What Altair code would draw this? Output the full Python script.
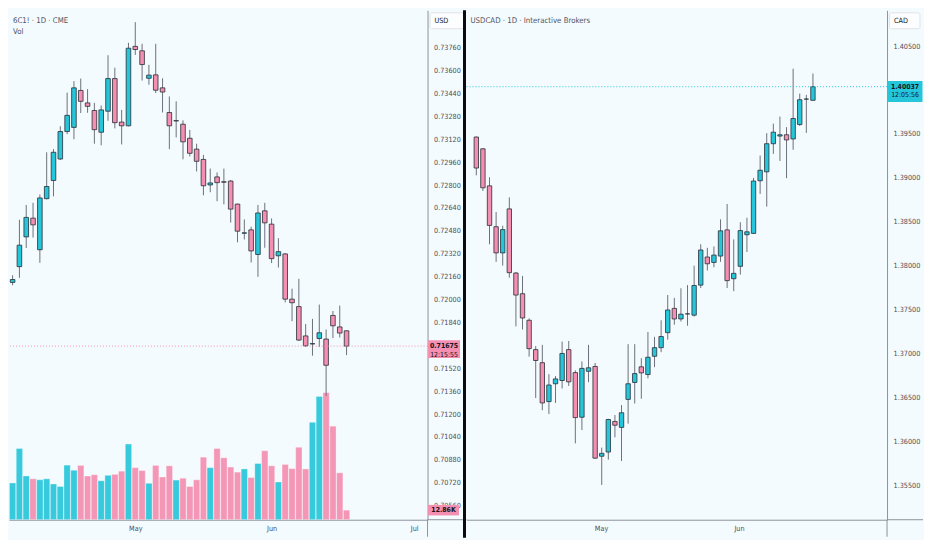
import altair as alt
import pandas as pd

# ---------------- left panel: 6C1! · 1D · CME ----------------
cad_idx = list(range(50))
cad_open = [0.72120, 0.72230, 0.72438, 0.72569, 0.72348, 0.72705, 0.72832, 0.72982, 0.73174, 0.73203,
            0.73461, 0.73374, 0.73321, 0.73169, 0.73316, 0.73544, 0.73240, 0.73214, 0.73769, 0.73738,
            0.73546, 0.73570, 0.73479, 0.73307, 0.73248, 0.73225, 0.73127, 0.73051, 0.72979, 0.72801,
            0.72857, 0.72823, 0.72828, 0.72667, 0.72464, 0.72487, 0.72315, 0.72620, 0.72527, 0.72306,
            0.72319, 0.72003, 0.71951, 0.71746, 0.71690, 0.71728, 0.71724, 0.71889, 0.71809, 0.71782]
cad_high = [0.72170, 0.72558, 0.72661, 0.72676, 0.72734, 0.73029, 0.73051, 0.73211, 0.73446, 0.73526,
            0.73544, 0.73470, 0.73374, 0.73356, 0.73707, 0.73620, 0.73325, 0.73794, 0.73938, 0.73787,
            0.73640, 0.73787, 0.73546, 0.73419, 0.73385, 0.73252, 0.73185, 0.73089, 0.73011, 0.72915,
            0.72888, 0.72915, 0.72835, 0.72670, 0.72560, 0.72509, 0.72661, 0.72676, 0.72567, 0.72429,
            0.72325, 0.72076, 0.72145, 0.71829, 0.71865, 0.71965, 0.71791, 0.71920, 0.71958, 0.71785]
cad_low = [0.72100, 0.72152, 0.72360, 0.72433, 0.72257, 0.72700, 0.72721, 0.72975, 0.73156, 0.73120,
           0.73303, 0.73305, 0.73089, 0.73078, 0.73249, 0.73196, 0.73084, 0.73210, 0.73709, 0.73530,
           0.73501, 0.73443, 0.73307, 0.73051, 0.73133, 0.72980, 0.73000, 0.72895, 0.72728, 0.72750,
           0.72687, 0.72665, 0.72538, 0.72400, 0.72420, 0.72259, 0.72159, 0.72362, 0.72255, 0.72224,
           0.71980, 0.71849, 0.71711, 0.71670, 0.71608, 0.71668, 0.71327, 0.71731, 0.71735, 0.71612]
cad_close = [0.72140, 0.72380, 0.72574, 0.72522, 0.72710, 0.72790, 0.73029, 0.73174, 0.73287, 0.73479,
             0.73385, 0.73350, 0.73187, 0.73325, 0.73544, 0.73236, 0.73214, 0.73756, 0.73747, 0.73642,
             0.73568, 0.73463, 0.73450, 0.73214, 0.73250, 0.73102, 0.73022, 0.72966, 0.72795, 0.72815,
             0.72817, 0.72820, 0.72632, 0.72478, 0.72466, 0.72340, 0.72605, 0.72536, 0.72286, 0.72335,
             0.72003, 0.71978, 0.71717, 0.71677, 0.71692, 0.71768, 0.71541, 0.71817, 0.71766, 0.71675]
cad_volume_k = [49.3, 95.6, 58.7, 54.9, 53.6, 54.9, 48.0, 44.6, 73.3, 66.4,
                72.9, 58.7, 60.4, 52.3, 59.6, 60.9, 65.2, 101.6, 69.9, 66.0,
                48.9, 72.9, 57.4, 72.4, 53.2, 55.7, 44.6, 53.6, 84.0, 69.9,
                95.6, 83.2, 70.7, 63.9, 68.2, 56.6, 75.4, 92.6, 72.4, 50.6,
                74.2, 68.6, 97.3, 68.2, 130.8, 165.5, 170.6, 125.6, 63.0, 12.86]
cad_ticks = [0.70560, 0.70720, 0.70880, 0.71040, 0.71200, 0.71360, 0.71520, 0.71840,
             0.72000, 0.72160, 0.72320, 0.72480, 0.72640, 0.72800, 0.72960, 0.73120, 0.73280,
             0.73440, 0.73600, 0.73760]
cad_month_labels = ["May", "Jun", "Jul"]
cad_month_pos = [18.0, 38.0, 58.93]
cad_xdomain = [0.204, 60.15]
cad_ydomain = [0.70462, 0.74021]
cad_vol_domain = [0, 684]
cad_last = 0.71675
cad_countdown = "12:15:55"
cad_vol_last = 12.86
cad_vol_label = "12.86K"
cad_title = "6C1! · 1D · CME"
cad_sub = "Vol"
cad_ccy = "USD"

# ---------------- right panel: USDCAD · 1D · Interactive Brokers ----------------
uc_idx = list(range(1, 53))
uc_open = [1.39464, 1.39330, 1.38908, 1.38443, 1.38145, 1.38646, 1.37916, 1.37680, 1.37378, 1.37044,
           1.36895, 1.36452, 1.36655, 1.36692, 1.37044, 1.36782, 1.36274, 1.36797, 1.36852, 1.35830,
           1.35878, 1.36226, 1.36158, 1.36477, 1.36670, 1.36848, 1.36760, 1.36968, 1.37066, 1.37237,
           1.37513, 1.37393, 1.37451, 1.37436, 1.37778, 1.38098, 1.38036, 1.38109, 1.38407, 1.37851,
           1.37992, 1.38352, 1.38367, 1.38966, 1.39068, 1.39388, 1.39475, 1.39490, 1.39442, 1.39606,
           1.39896, 1.39882]
uc_high = [1.39470, 1.39336, 1.39006, 1.38610, 1.38454, 1.38777, 1.37927, 1.37883, 1.37400, 1.37084,
           1.37098, 1.36764, 1.36742, 1.37135, 1.37142, 1.36808, 1.36910, 1.37098, 1.36892, 1.35928,
           1.36256, 1.36299, 1.36412, 1.37106, 1.37106, 1.36946, 1.37244, 1.37189, 1.37378, 1.37665,
           1.37633, 1.37742, 1.37778, 1.37999, 1.38243, 1.38203, 1.38218, 1.38527, 1.38701, 1.38298,
           1.38494, 1.38545, 1.38999, 1.39253, 1.39508, 1.39617, 1.39697, 1.39577, 1.40242, 1.39958,
           1.39944, 1.40187]
uc_low = [1.39028, 1.38850, 1.38243, 1.38043, 1.38000, 1.37862, 1.37309, 1.37273, 1.36964, 1.36492,
          1.36354, 1.36310, 1.36437, 1.36601, 1.36630, 1.35976, 1.36128, 1.36673, 1.35801, 1.35503,
          1.35791, 1.36045, 1.35776, 1.36201, 1.36430, 1.36485, 1.36717, 1.36844, 1.37015, 1.37157,
          1.37327, 1.37364, 1.37316, 1.37420, 1.37745, 1.37945, 1.37981, 1.38043, 1.37745, 1.37709,
          1.37898, 1.38156, 1.38360, 1.38817, 1.38672, 1.39272, 1.39192, 1.38995, 1.39319, 1.39591,
          1.39511, 1.39882]
uc_close = [1.39111, 1.38886, 1.38458, 1.38145, 1.38410, 1.37920, 1.37665, 1.37404, 1.37055, 1.36920,
            1.36437, 1.36641, 1.36710, 1.37000, 1.36677, 1.36270, 1.36830, 1.36837, 1.35808, 1.35863,
            1.36248, 1.36183, 1.36325, 1.36655, 1.36771, 1.36779, 1.36957, 1.37066, 1.37193, 1.37495,
            1.37393, 1.37447, 1.37451, 1.37774, 1.38178, 1.38021, 1.38120, 1.38396, 1.37829, 1.37912,
            1.38399, 1.38385, 1.38963, 1.39086, 1.39388, 1.39519, 1.39490, 1.39431, 1.39675, 1.39889,
            1.39896, 1.40037]
uc_ticks = [1.35500, 1.36000, 1.36500, 1.37000, 1.37500, 1.38000, 1.38500, 1.39000, 1.39500,
            1.40500]
uc_month_labels = ["May", "Jun"]
uc_month_pos = [19.9, 40.8]
uc_xdomain = [0.27, 62.47]
uc_ydomain = [1.35107, 1.40907]
uc_last = 1.40037
uc_countdown = "12:05:56"
uc_title = "USDCAD · 1D · Interactive Brokers"
uc_ccy = "CAD"

# ---------------- style ----------------
W1, E1, W2, E2 = 419, 39, 421, 36
H = 510
CYAN = "#26c6da"
PINK = "#f48fb1"
BORDER = "#2a2e39"
WICK = "#6d707a"
AXC = "#8f929b"
LABC = "#4a4e59"
BG = "#f4fbfe"
FONT = "DejaVu Sans Condensed, Liberation Sans, sans-serif"
BOXPATH = "M-1,-0.55H1V0.55H-1Z"
BOXPATH2 = "M-1,-0.6H1V0.6H-1Z"
AXFS = 7.2
BOXFS = 6.9

dummy = pd.DataFrame({"a": [0]})
color_enc = alt.Color("dir:N", scale=alt.Scale(domain=["up", "down"], range=[CYAN, PINK]), legend=None)


def month_expr(pos, labels):
    expr = "''"
    for p, lab in zip(reversed(pos), reversed(labels)):
        expr = f"abs(datum.value - {p}) < 0.5 ? '{lab}' : {expr}"
    return expr


def make_x(domain, pos, labels):
    return alt.X("i:Q", scale=alt.Scale(domain=domain, nice=False, zero=False),
                 axis=alt.Axis(values=pos, labelExpr=month_expr(pos, labels), title=None, grid=False,
                               ticks=False, labelPadding=5, domainColor=AXC, labelColor=LABC,
                               labelFontSize=AXFS, labelFont=FONT, labelFlush=False))


def y_axis(ticks):
    return alt.Axis(orient="right", values=ticks, format=".5f", title=None, grid=False, ticks=False,
                    labelPadding=6, labelAlign="left", labelBaseline="middle", labelColor=LABC,
                    labelFontSize=AXFS, labelFont=FONT, domainColor=AXC, labelOverlap=False,
                    labelFlush=False)


def price_layers(idx, o, h, l, c, xdom, ydom, ticks, mpos, mlab, W, body_size,
                 last, countdown, last_color, box_w, box_path, box_off, line2_off):
    df = pd.DataFrame({"i": idx, "open": o, "high": h, "low": l, "close": c})
    df["dir"] = ["up" if cc >= oo else "down" for oo, cc in zip(o, c)]
    xenc = make_x(xdom, mpos, mlab)
    ysc = alt.Scale(domain=ydom, nice=False, zero=False)
    yax = y_axis(ticks)
    wick = alt.Chart(df).mark_rule(color=WICK, strokeWidth=1, clip=True).encode(
        x=xenc, y=alt.Y("low:Q", scale=ysc, axis=yax), y2="high:Q")
    body = alt.Chart(df).mark_bar(size=body_size, stroke=BORDER, strokeWidth=0.8, clip=True).encode(
        x=xenc, y=alt.Y("open:Q", scale=ysc, axis=yax), y2="close:Q", color=color_enc)
    ldf = pd.DataFrame({"p": [last], "lab": [f"{last:.5f}"], "cd": [countdown]})
    line = alt.Chart(ldf).mark_rule(color=last_color, strokeDash=[1, 2], strokeWidth=1).encode(
        y=alt.Y("p:Q", scale=ysc, axis=yax))
    box = alt.Chart(ldf).mark_point(shape=box_path, filled=True, size=box_w * box_w, color=last_color,
                                    opacity=1, strokeWidth=0, yOffset=box_off).encode(
        x=alt.value(W + box_w / 2 + 0.5), y=alt.Y("p:Q", scale=ysc, axis=yax))
    t1 = alt.Chart(ldf).mark_text(align="center", baseline="middle", font=FONT, fontSize=BOXFS,
                                  fontWeight="bold", color="#131722").encode(
        x=alt.value(W + box_w / 2 + 0.5), y=alt.Y("p:Q", scale=ysc, axis=yax), text="lab:N")
    t2 = alt.Chart(ldf).mark_text(align="center", baseline="middle", font=FONT, fontSize=BOXFS,
                                  color="#131722", yOffset=line2_off).encode(
        x=alt.value(W + box_w / 2 + 0.5), y=alt.Y("p:Q", scale=ysc, axis=yax), text="cd:N")
    return [wick, body, line, box, t1, t2]


def decor(W, E, ccy, title_lines):
    items = []
    for txt, yy in title_lines:
        items.append(alt.Chart(dummy).mark_text(align="left", baseline="middle", font=FONT,
                                                fontSize=7.8, color="#50535e").encode(
            x=alt.value(4), y=alt.value(yy), text=alt.value(txt)))
    items.append(alt.Chart(dummy).mark_rect(fill="#fbfdfe", stroke="#dfe2e8", strokeWidth=1,
                                            cornerRadius=2).encode(
        x=alt.value(W + 2.5), x2=alt.value(W + E - 3), y=alt.value(2.5), y2=alt.value(18.5)))
    items.append(alt.Chart(dummy).mark_text(align="left", baseline="middle", font=FONT, fontSize=7.2,
                                            color="#131722").encode(
        x=alt.value(W + 7), y=alt.value(11), text=alt.value(ccy)))
    items.append(alt.Chart(dummy).mark_rule(color=AXC, strokeWidth=1).encode(
        x=alt.value(W), x2=alt.value(W + E), y=alt.value(H)))
    items.append(alt.Chart(dummy).mark_rule(color=AXC, strokeWidth=1).encode(
        x=alt.value(W), y=alt.value(H), y2=alt.value(H + 17)))
    return items


# left panel
cad_price = price_layers(cad_idx, cad_open, cad_high, cad_low, cad_close, cad_xdomain, cad_ydomain,
                         cad_ticks, cad_month_pos, cad_month_labels, W1, 4.6, cad_last, cad_countdown,
                         PINK, 32, BOXPATH, 3.0, 8.6)
vdf = pd.DataFrame({"i": cad_idx, "vol": cad_volume_k})
vdf["dir"] = ["up" if cc >= oo else "down" for oo, cc in zip(cad_open, cad_close)]
vsc = alt.Scale(domain=cad_vol_domain, nice=False, zero=True)
cad_x = make_x(cad_xdomain, cad_month_pos, cad_month_labels)
vol_bars = alt.Chart(vdf).mark_bar(size=6.3, opacity=0.92, stroke="#ffffff", strokeWidth=0.5,
                                   strokeOpacity=0.6, clip=True).encode(
    x=cad_x, y=alt.Y("vol:Q", scale=vsc, axis=None), color=color_enc)
vldf = pd.DataFrame({"v": [cad_vol_last], "lab": [cad_vol_label]})
vol_box = alt.Chart(vldf).mark_point(shape="M-1,-0.34H1V0.34H-1Z", filled=True, size=31 * 31,
                                     color=PINK, opacity=1, strokeWidth=0).encode(
    x=alt.value(W1 + 16), y=alt.Y("v:Q", scale=vsc, axis=None))
vol_txt = alt.Chart(vldf).mark_text(align="center", baseline="middle", font=FONT, fontSize=BOXFS,
                                    fontWeight="bold", color="#131722").encode(
    x=alt.value(W1 + 16), y=alt.Y("v:Q", scale=vsc, axis=None), text="lab:N")
vol_layer = alt.layer(vol_bars, vol_box, vol_txt)
cad_layer = alt.layer(*cad_price, *decor(W1, E1, cad_ccy, [(cad_title, 10.5), (cad_sub, 21.5)]))
left = alt.layer(vol_layer, cad_layer).resolve_scale(y="independent").properties(width=W1, height=H)

# right panel
uc_price = price_layers(uc_idx, uc_open, uc_high, uc_low, uc_close, uc_xdomain, uc_ydomain,
                        uc_ticks, uc_month_pos, uc_month_labels, W2, 4.4, uc_last, uc_countdown,
                        CYAN, 35, BOXPATH2, 4.8, 8.8)
sep = alt.Chart(dummy).mark_rule(color="#0b0b0f", strokeWidth=3).encode(
    x=alt.value(-2), y=alt.value(0), y2=alt.value(H + 18))
right = alt.layer(*uc_price, *decor(W2, E2, uc_ccy, [(uc_title, 10.5)]), sep).properties(width=W2, height=H)

chart = alt.hconcat(left, right, spacing=E1, bounds="flush").properties(
    padding=0, background=BG).configure_view(strokeWidth=0)

chart.save("out.html", embed_options={"renderer": "svg", "actions": False})
